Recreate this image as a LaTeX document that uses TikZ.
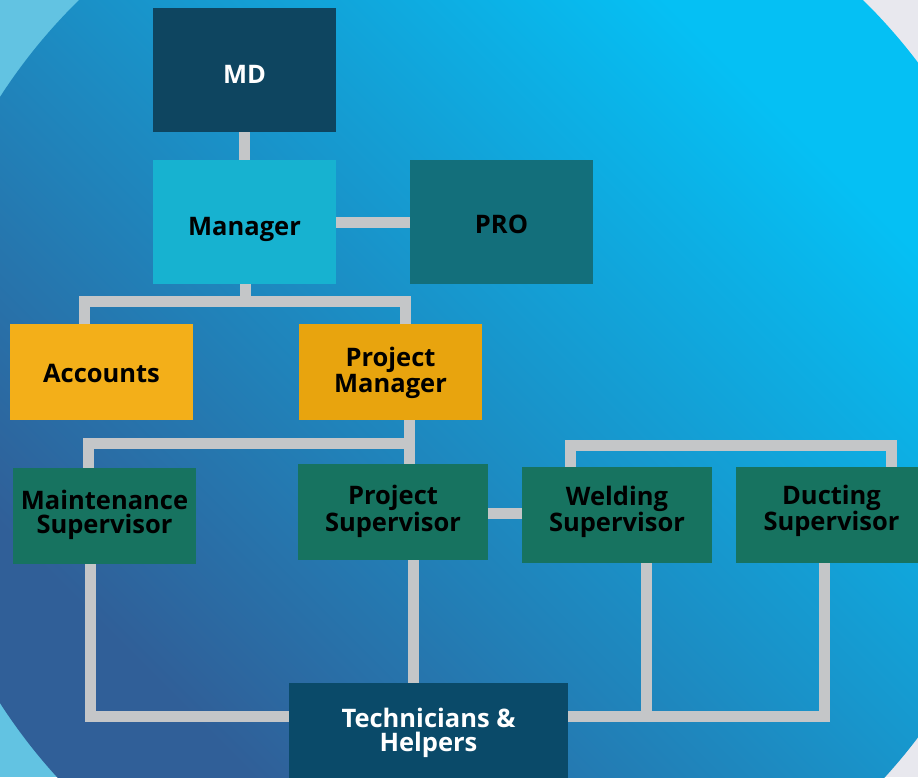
\documentclass[tikz,border=0pt]{standalone}
\usepackage{fontspec}
\setmainfont{Open Sans}
\pgfdeclarelayer{bgl}
\pgfdeclarelayer{lnl}
\pgfsetlayers{bgl,lnl,main}
\definecolor{outblue}{HTML}{62C3E2}
\definecolor{outgray}{HTML}{E8E8EE}
\definecolor{gtop}{HTML}{05C0F4}
\definecolor{gmid}{HTML}{1E8FC7}
\definecolor{gbot}{HTML}{305F98}
\definecolor{mdcol}{HTML}{0E4560}
\definecolor{mgrcol}{HTML}{17B2D0}
\definecolor{procol}{HTML}{136F7B}
\definecolor{acccol}{HTML}{F3AF19}
\definecolor{pmcol}{HTML}{E8A40E}
\definecolor{supcol}{HTML}{177360}
\definecolor{techcol}{HTML}{0A4A69}
\definecolor{linkgray}{HTML}{C4C6C8}
\begin{document}
\begin{tikzpicture}[x=1pt,y=-1pt,
  box/.style={rectangle, inner sep=0pt, align=center,
    font=\fontsize{25.5}{24}\selectfont\bfseries, text=black, text depth=0pt},
  bigbox/.style={box, minimum width=183pt, minimum height=124pt},
  midbox/.style={box, minimum width=183pt, minimum height=96pt},
  link/.style={draw=linkgray, line width=11pt}]
\useasboundingbox (0,0) rectangle (918,777);
\begin{pgfonlayer}{bgl}
  \fill[outblue] (0,0) rectangle (459,777);
  \fill[outgray] (459,0) rectangle (918,777);
  \begin{scope}
    \clip (471,400) circle (560);
    \shade[top color=gtop, middle color=gmid, bottom color=gbot, shading angle=-45]
      (0,0) rectangle (918,777);
  \end{scope}
\end{pgfonlayer}

\node[bigbox, fill=mdcol, text=white, text height=27pt] (md) at (244.5,70) {MD};
\node[bigbox, fill=mgrcol, text height=26pt] (mgr) at (244.5,222) {Manager};
\node[bigbox, fill=procol, text height=22pt] (pro) at (501.5,222) {PRO};
\node[midbox, fill=acccol, text height=20pt] (acc) at (101.5,372) {Accounts};
\node[midbox, fill=pmcol, text height=40pt] (pm) at (390.5,372) {Project\\Manager};
\node[midbox, fill=supcol, text height=34pt] (ms) at (104.5,516) {Maintenance\\Supervisor};
\node[midbox, fill=supcol, minimum width=190pt, text height=38pt] (ps) at (393,512) {Project\\Supervisor};
\node[midbox, fill=supcol, minimum width=190pt, text height=33pt] (ws) at (617,515) {Welding\\Supervisor};
\node[midbox, fill=supcol, minimum width=191pt, text height=31pt] (ds) at (831.5,515) {Ducting\\Supervisor};
\node[box, fill=techcol, text=white, minimum width=279pt, minimum height=96pt, text height=41pt] (tech) at (428.5,731) {Technicians \&\\Helpers};

\coordinate (j1) at (245.5,301.5);
\coordinate (j2) at (409.5,443.5);
\coordinate (j3) at (731,445.5);

\begin{pgfonlayer}{lnl}
  \draw[link] (md) -- (mgr);
  \draw[link] (mgr) -- (pro);
  \draw[link] ([xshift=1pt]mgr.south) -- (j1);
  \draw[link] ([xshift=-17pt]acc.north) |- (j1) -| ([xshift=15pt]pm.north);
  \draw[link] ([xshift=19pt]pm.south) -- ([xshift=16.5pt]ps.north);
  \draw[link] ([xshift=-16pt]ms.north) |- (j2);
  \draw[link] ([yshift=-1.5pt]ps.east) -- ([yshift=-1.5pt]ps.east -| ws.west);
  \draw[link] ([xshift=-46.5pt]ws.north) |- (j3) -| ([xshift=60pt]ds.north);
  \draw[link] ([xshift=-14pt]ms.south) |- ([yshift=14.5pt]tech.west);
  \draw[link] ([xshift=20.5pt]ps.south) -- ([xshift=20.5pt]ps.south |- tech.north);
  \draw[link] ([yshift=14.5pt]tech.east) -| ([xshift=-7pt]ds.south);
  \draw[link] ([xshift=29.5pt]ws.south) |- ([yshift=14.5pt]tech.east);
\end{pgfonlayer}
\end{tikzpicture}
\end{document}
